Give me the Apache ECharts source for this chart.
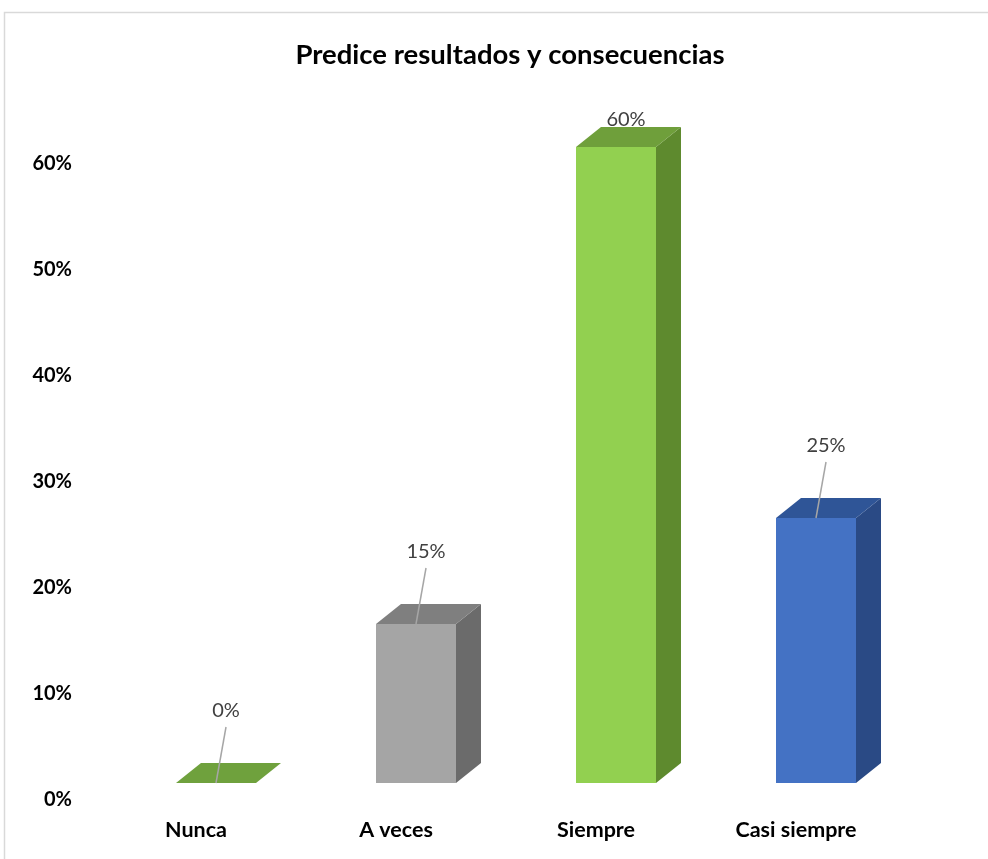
<!DOCTYPE html>
<html>
<head>
<meta charset="utf-8">
<script src="https://cdn.jsdelivr.net/npm/echarts@6/dist/echarts.min.js"></script>
<style>
html,body{margin:0;padding:0;background:#fff;}
#chart{width:988px;height:859px;}
</style>
</head>
<body>
<div id="chart"></div>
<script>
const categories = ['Nunca', 'A veces', 'Siempre', 'Casi siempre'];
const values = [0, 0.15, 0.60, 0.25];
const yTicks = [0, 0.1, 0.2, 0.3, 0.4, 0.5, 0.6];
const titleText = 'Predice resultados y consecuencias';

// face colours per bar: [front, top, side]
const faceColors = [
  ['#70AD47', '#6FA13D', '#5A8A30'],
  ['#A5A5A5', '#7F7F7F', '#6B6B6B'],
  ['#92D050', '#6F9F3B', '#5E8A2E'],
  ['#4472C4', '#2F5597', '#2A4A85']
];

const FONT = 'Lato, "Noto Sans", sans-serif';
const chart = echarts.init(document.getElementById('chart'), null, {renderer: 'canvas'});

function renderBar(params, api) {
  const i = params.dataIndex;
  const v = api.value(1);
  const base = api.coord([api.value(0), 0]);
  const topPt = api.coord([api.value(0), v]);
  const lift = 17, dx = 25, dy = -20;
  const x0 = base[0] - 20, x1 = base[0] + 60;
  const yb = base[1] - lift, yt = topPt[1] - lift;
  const col = faceColors[i];
  const children = [];
  if (yb - yt > 0.5) {
    children.push({type: 'rect', shape: {x: x0, y: yt, width: x1 - x0, height: yb - yt}, style: {fill: col[0]}});
    children.push({type: 'polygon', shape: {points: [[x1, yt], [x1 + dx, yt + dy], [x1 + dx, yb + dy], [x1, yb]]}, style: {fill: col[2]}});
  }
  children.push({type: 'polygon', shape: {points: [[x0, yt], [x0 + dx, yt + dy], [x1 + dx, yt + dy], [x1, yt]]}, style: {fill: col[1]}});
  const cx = (x0 + x1) / 2;
  const lx = cx + 10;
  const ly = Math.max(yt - 72, 120);
  if (ly + 14 < yt + dy) {
    children.push({type: 'line', shape: {x1: lx, y1: ly + 16, x2: cx, y2: yt}, style: {stroke: '#A6A6A6', lineWidth: 1.5}});
  }
  children.push({type: 'text', x: lx, y: ly, style: {text: Math.round(v * 100) + '%', fill: '#404040', font: '20px ' + FONT, align: 'center', verticalAlign: 'middle'}});
  return {type: 'group', children: children};
}

chart.setOption({
  animation: false,
  backgroundColor: '#fff',
  title: {
    text: titleText,
    left: 505,
    textAlign: 'center',
    top: 36,
    textStyle: {fontFamily: FONT, fontWeight: 'bold', fontSize: 27.5, color: '#000'}
  },
  graphic: [{
    type: 'rect',
    shape: {x: 4.5, y: 12.5, width: 1200, height: 1000},
    style: {fill: 'none', stroke: '#D9D9D9', lineWidth: 1.5},
    z: -1
  }],
  grid: {left: 96, width: 800, top: 164, bottom: 59, containLabel: false},
  xAxis: {
    type: 'category',
    data: categories,
    axisLine: {show: false},
    axisTick: {show: false},
    axisLabel: {margin: 19, color: '#000', fontFamily: FONT, fontWeight: 'bold', fontSize: 21.5}
  },
  yAxis: {
    type: 'value',
    min: 0,
    max: yTicks[yTicks.length - 1],
    interval: 0.1,
    axisLine: {show: false},
    axisTick: {show: false},
    splitLine: {show: false},
    axisLabel: {margin: 24, color: '#000', fontFamily: FONT, fontWeight: 'bold', fontSize: 20,
      formatter: v => Math.round(v * 100) + '%'}
  },
  series: [{
    type: 'custom',
    renderItem: renderBar,
    data: values.map((v, i) => [i, v]),
    encode: {x: 0, y: 1},
    clip: false
  }]
});
</script>
</body>
</html>
